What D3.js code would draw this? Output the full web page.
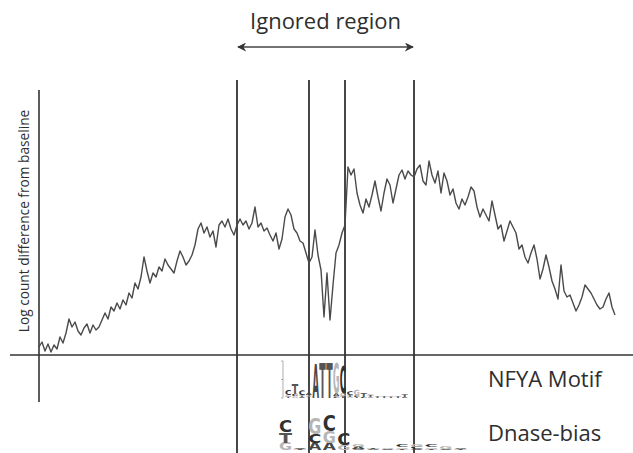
<!DOCTYPE html>
<html>
<head>
<meta charset="utf-8">
<script src="https://cdn.jsdelivr.net/npm/d3@7"></script>
<style>
  body { margin: 0; background: #fff; }
  #chart { width: 633px; height: 453px; }
  text { font-family: "Open Sans", sans-serif; fill: #2e2e2e; }
</style>
</head>
<body>
<div id="chart"></div>
<script>
let signal = [                 // log count difference, one value per bp from -96 to +96
  .08,.13,.04,.11,.03,.10,.06,.18,.12,.22,.36,.28,.33,.24,.20,.27,.31,.22,.30,.25,.28,
  .35,.42,.36,.48,.44,.52,.46,.55,.50,.62,.57,.72,.66,.78,.98,.84,.72,.82,.78,.88,.84,.96,.90,.86,.82,.94,
  1.04,.98,.90,.94,1.00,1.10,1.26,1.32,1.22,1.28,1.18,1.24,1.08,1.30,1.34,1.28,1.36,1.26,1.20,1.30,
  1.36,1.30,1.34,1.26,1.32,1.48,1.28,1.32,1.24,1.27,1.20,1.14,1.22,1.06,1.16,1.38,1.46,1.40,1.26,1.22,1.14,1.12,1.02,.92,
  .98,1.25,1.00,.85,.38,.82,.35,.70,1.02,1.10,1.22,1.30,
  1.88,1.80,1.86,1.62,1.50,1.42,1.56,1.48,1.60,1.74,1.58,1.44,1.62,1.76,1.70,1.52,1.66,1.80,1.85,1.76,1.84,1.80,1.78,
  1.86,1.90,1.74,1.70,1.94,1.80,1.72,1.84,1.62,1.82,1.74,1.60,1.66,1.52,1.46,1.56,1.50,1.58,1.68,1.64,1.48,1.38,
  1.46,1.40,1.34,1.54,1.40,1.26,1.30,1.14,1.24,1.34,1.28,1.22,1.06,1.10,.98,.92,1.02,1.10,.96,.76,.86,1.00,.88,
  .74,.66,.56,.90,.64,.58,.60,.52,.44,.50,.58,.70,.66,.62,.56,.50,.46,.48,.56,.62,.48,.40
];
let firstPosition = -96;             // bp of the first signal value
let regionLines = [-30, -6, 6, 29];  // vertical markers (bp)
let ignoredRegion = [-30, 29];       // arrow span (bp)

let motifColumns = [                 // NFYA motif, [letter, bits]
  [["C",.30],["G",.10],["T",.08]],
  [["T",.55],["C",.12],["G",.10]],
  [["C",.25],["T",.08],["A",.06]],
  [["A",.12],["G",.08],["T",.06]],
  [["A",1.85]],
  [["T",1.88]],
  [["T",1.88]],
  [["G",1.60],["A",.15],["C",.10]],
  [["C",1.50],["G",.15],["T",.10]],
  [["C",.20],["T",.10],["G",.08]],
  [["G",.28],["C",.10],["T",.06]],
  [["T",.22],["C",.06]],
  [["T",.12],["A",.04]],
  [["T",.10]],
  [["T",.10]],
  [["T",.08]],
  [["T",.10]],
  [["T",.15],["C",.05]]
];
let biasColumns = [                  // Dnase-bias logo, [letter, bits]
  [["C",.65],["G",.40],["T",.55]],
  [["A",.04],["T",.03]],
  [["G",.85],["C",.50],["A",.38]],
  [["C",.85],["G",.65],["A",.40]],
  [["C",.60],["G",.25]],
  [["G",.12],["A",.10],["C",.08]],
  [["T",.08],["C",.06]],
  [["G",.06],["A",.05]],
  [["C",.10],["T",.08],["G",.08]],
  [["G",.12],["C",.10],["A",.06]],
  [["C",.10],["G",.08],["T",.06]],
  [["G",.10],["A",.08]],
  [["C",.08],["T",.05]]
];
let letterColors = { A: "#474747", C: "#303030", G: "#b5b5b5", T: "#555555" };

let svg, X, Y;

window.addEventListener('load', function ()
{
  createSVG();
  drawFrame();
  drawSignal();
  drawLogos();
});

function createSVG()
{
  let width = document.getElementById("chart").offsetWidth;
  let height = document.getElementById("chart").offsetHeight;

  X = d3.scaleLinear()
        .domain([firstPosition, firstPosition + signal.length - 1])
        .range([39, 615]);
  Y = d3.scaleLinear()
        .domain([0, 2])
        .range([355, 155]);

  svg = d3.select("#chart")
    .append("svg")
    .attr("width", width)
    .attr("height", height);
}

function drawFrame()
{
  svg.append("line")                      // baseline
    .attr("x1", 10).attr("x2", 633)
    .attr("y1", Y(0)).attr("y2", Y(0))
    .attr("stroke", "#333").attr("stroke-width", 1.6);

  svg.append("line")                      // y axis
    .attr("x1", X(firstPosition)).attr("x2", X(firstPosition))
    .attr("y1", 90).attr("y2", 402)
    .attr("stroke", "#333").attr("stroke-width", 1.6);

  svg.selectAll(".region")                // region markers
    .data(regionLines)
    .join("line")
    .attr("class", "region")
    .attr("x1", d => X(d)).attr("x2", d => X(d))
    .attr("y1", 80).attr("y2", 453)
    .attr("stroke", "#333").attr("stroke-width", 1.8);

  svg.append("text")
    .attr("transform", "translate(29," + 221 + ") rotate(-90)")
    .attr("text-anchor", "middle")
    .attr("font-size", 13.7)
    .text("Log count difference from baseline");

  let defs = svg.append("defs");
  defs.append("marker")
    .attr("id", "head")
    .attr("viewBox", "0 0 10 10")
    .attr("refX", 9).attr("refY", 5)
    .attr("markerWidth", 9).attr("markerHeight", 9)
    .attr("markerUnits", "userSpaceOnUse")
    .attr("orient", "auto-start-reverse")
    .append("path")
    .attr("d", "M0,0 L10,5 L0,10 L3,5 Z")
    .attr("fill", "#333");

  svg.append("line")                      // ignored region arrow
    .attr("x1", X(ignoredRegion[0]) + 1).attr("x2", X(ignoredRegion[1]) - 1)
    .attr("y1", 47).attr("y2", 47)
    .attr("stroke", "#444").attr("stroke-width", 1.6)
    .attr("marker-start", "url(#head)")
    .attr("marker-end", "url(#head)");

  svg.append("text")
    .attr("x", (X(ignoredRegion[0]) + X(ignoredRegion[1])) / 2)
    .attr("y", 29)
    .attr("text-anchor", "middle")
    .attr("font-size", 22)
    .text("Ignored region");

  svg.append("text").attr("x", 488).attr("y", 387).attr("font-size", 22).text("NFYA Motif");
  svg.append("text").attr("x", 488).attr("y", 441).attr("font-size", 22).text("Dnase-bias");
}

function drawSignal()
{
  let line = d3.line()
    .x((d, i) => X(firstPosition + i))
    .y(d => Y(d));

  svg.append("path")
    .datum(signal)
    .attr("d", line)
    .attr("fill", "none")
    .attr("stroke", "#4a4a4a")
    .attr("stroke-width", 1.4)
    .attr("stroke-linejoin", "round");
}

function drawLogos()
{
  let bits = d3.scaleLinear().domain([0, 2]).range([0, 37]);

  let motifX = d3.scaleBand().domain(d3.range(motifColumns.length)).range([285, 408]).paddingInner(0.06);
  let biasX = d3.scaleBand().domain(d3.range(biasColumns.length)).range([279, 467]).paddingInner(0.1);

  let motif = svg.append("g");
  motif.append("line")                    // small bits axis of the motif
    .attr("x1", 283).attr("x2", 283)
    .attr("y1", 398 - bits(2)).attr("y2", 398)
    .attr("stroke", "#999").attr("stroke-width", 0.8);
  [0, 1, 2].forEach(function (b) {
    motif.append("line")
      .attr("x1", 281).attr("x2", 283)
      .attr("y1", 398 - bits(b)).attr("y2", 398 - bits(b))
      .attr("stroke", "#999").attr("stroke-width", 0.8);
  });
  drawLogo(motif, motifColumns, motifX, bits, 398);

  drawLogo(svg.append("g"), biasColumns, biasX, bits, 450);
}

function drawLogo(g, columns, band, bits, base)
{
  columns.forEach(function (col, i) {
    let stack = col.slice().sort((a, b) => a[1] - b[1]);   // largest letter on top
    let y = base;
    stack.forEach(function (d) {
      let h = bits(d[1]);
      let t = g.append("text")
        .text(d[0])
        .style("font-family", "'DejaVu Sans', sans-serif")
        .style("fill", letterColors[d[0]])
        .attr("font-weight", "bold")
        .attr("font-size", 100);
      let w = t.node().getComputedTextLength();
      t.attr("transform", "translate(" + band(i) + "," + y + ") scale(" +
        (band.bandwidth() / w) + "," + (h / 73) + ")");
      y -= h;
    });
  });
}
</script>
</body>
</html>
